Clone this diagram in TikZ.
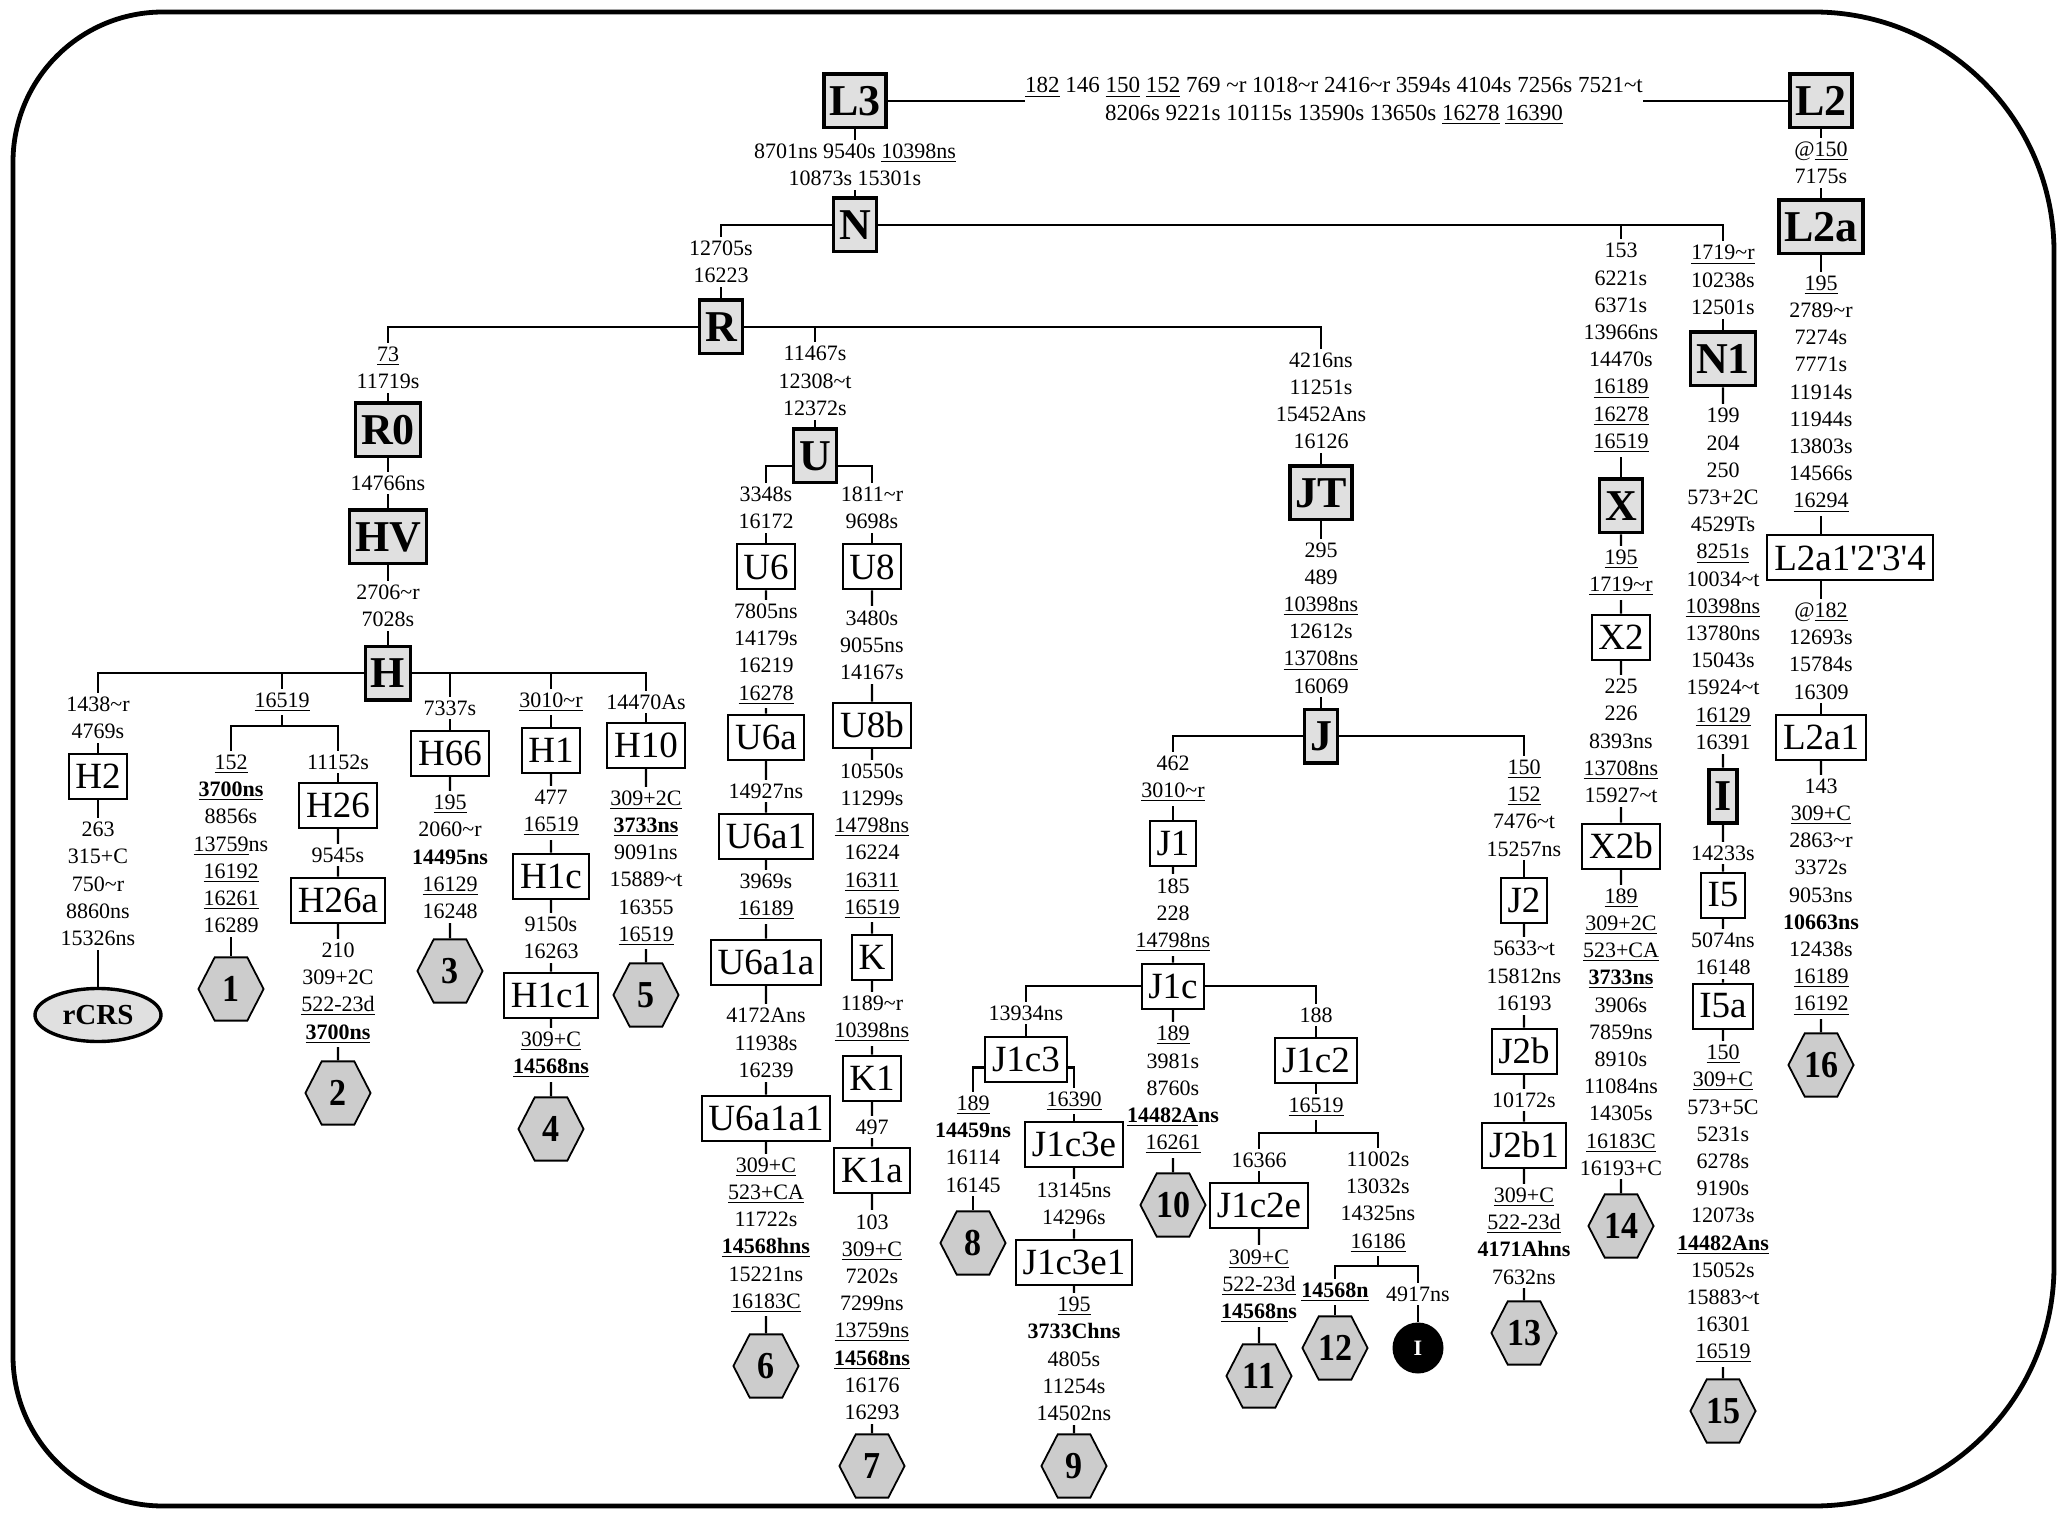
\documentclass[tikz,border=0pt]{standalone}
\usepackage{fontspec}
\setmainfont{Liberation Serif}
\usetikzlibrary{shapes.geometric}
\pgfdeclarelayer{background}
\pgfsetlayers{background,main}
\definecolor{hgfill}{gray}{0.88}
\definecolor{hexfill}{gray}{0.8}
\newcommand{\un}[1]{\underline{#1}}
\newcommand{\ubf}[1]{\textbf{\underline{#1}}}
\newcommand{\tld}{\textasciitilde}

\begin{document}
\begin{tikzpicture}[
    x=0.5pt, y=-0.5pt,
    hg/.style={draw, line width=1.7pt, fill=hgfill, inner xsep=2.7pt, inner ysep=0pt, minimum height=26.8pt, font=\fontsize{22}{22}\selectfont\bfseries},
    sub/.style={draw, line width=1pt, fill=white, inner xsep=3.4pt, inner ysep=0pt, minimum height=22.5pt, font=\fontsize{18.5}{18.5}\selectfont},
    hexa/.style={regular polygon, regular polygon sides=6, draw, line width=0.9pt, fill=hexfill, inner sep=0pt, minimum size=32.6pt, yscale=1.12, font=\fontsize{17}{17}\selectfont\bfseries},
    refseq/.style={ellipse, draw, line width=1.7pt, fill=hgfill, inner sep=0pt, minimum width=63pt, minimum height=26.5pt, font=\fontsize{14.5}{14.5}\selectfont\bfseries},
    dot/.style={circle, fill=black, text=white, inner sep=0pt, minimum size=25.5pt, font=\fontsize{11}{11}\selectfont\bfseries},
    mut/.style={fill=white, inner xsep=1pt, inner ysep=2pt, align=center, font=\fontsize{11}{13.6}\selectfont},
    link/.style={line width=1.1pt},
    outline/.style={line width=2.4pt}
]
\useasboundingbox (0,0) rectangle (2066,1518);

% Mutation lists
\node[mut, inner xsep=0pt, font=\fontsize{11.5}{13.6}\selectfont] (m-top) at (1334,101) {\un{182} 146 \un{150} \un{152} 769 \tld r 1018\tld r 2416\tld r 3594s 4104s 7256s 7521\tld t\\8206s 9221s 10115s 13590s 13650s \un{16278} \un{16390}};
\node[mut] (m-n) at (855,165) {8701ns 9540s \un{10398ns}\\10873s 15301s};
\node[mut] (m-r) at (721,262) {12705s\\16223};
\node[mut] (m-x) at (1621,348) {153\\6221s\\6371s\\13966ns\\14470s\\\un{16189}\\\un{16278}\\\un{16519}};
\node[mut] (m-n1) at (1723,280) {\un{1719\tld r}\\10238s\\12501s};
\node[mut] (m-l2a) at (1821,163) {@\un{150}\\7175s};
\node[mut] (m-r0) at (388,368) {\un{73}\\11719s};
\node[mut] (m-hv) at (388,483) {14766ns};
\node[mut] (m-h) at (388,606) {2706\tld r\\7028s};
\node[mut] (m-u) at (815,381) {11467s\\12308\tld t\\12372s};
\node[mut] (m-jt) at (1321,401) {4216ns\\11251s\\15452Ans\\16126};
\node[mut] (m-j) at (1321,618) {295\\489\\\un{10398ns}\\12612s\\\un{13708ns}\\16069};
\node[mut] (m-h2) at (98,718) {1438\tld r\\4769s};
\node[mut] (m-rcrs) at (98,884) {263\\315+C\\750\tld r\\8860ns\\15326ns};
\node[mut] (m-hb) at (282,702) {\un{16519}};
\node[mut] (m-hex1) at (231,844) {\un{152}\\\ubf{3700ns}\\8856s\\\un{13759}ns\\\un{16192}\\\un{16261}\\16289};
\node[mut] (m-h26) at (338,762) {11152s};
\node[mut] (m-h26a) at (338,855) {9545s};
\node[mut] (m-hex2) at (338,993) {210\\309+2C\\\un{522-23d}\\\ubf{3700ns}};
\node[mut] (m-h66) at (450,708) {7337s};
\node[mut] (m-hex3) at (450,857) {\un{195}\\2060\tld r\\\textbf{14495ns}\\\un{16129}\\16248};
\node[mut] (m-h1) at (551,702) {\un{3010\tld r}};
\node[mut] (m-h1c) at (551,813) {477\\\un{16519}};
\node[mut] (m-h1c1) at (551,938) {9150s\\16263};
\node[mut] (m-hex4) at (551,1055) {\un{309+C}\\\ubf{14568ns}};
\node[mut] (m-h10) at (646,702) {14470As};
\node[mut] (m-hex5) at (646,868) {\un{309+2C}\\\ubf{3733ns}\\9091ns\\15889\tld t\\16355\\\un{16519}};
\node[mut] (m-u6) at (766,508) {3348s\\16172};
\node[mut] (m-u6a) at (766,654) {7805ns\\14179s\\16219\\\un{16278}};
\node[mut] (m-u6a1) at (766,791) {14927ns};
\node[mut] (m-u6a1a) at (766,897) {3969s\\\un{16189}};
\node[mut] (m-u6a1a1) at (766,1043) {4172Ans\\11938s\\16239};
\node[mut] (m-hex6) at (766,1235) {\un{309+C}\\\un{523+CA}\\11722s\\\ubf{14568hns}\\15221ns\\\un{16183C}};
\node[mut] (m-u8) at (872,508) {1811\tld r\\9698s};
\node[mut] (m-u8b) at (872,645) {3480s\\9055ns\\14167s};
\node[mut] (m-k) at (872,841) {10550s\\11299s\\\un{14798ns}\\16224\\\un{16311}\\\un{16519}};
\node[mut] (m-k1) at (872,1019) {1189\tld r\\\un{10398ns}};
\node[mut] (m-k1a) at (872,1127) {497};
\node[mut] (m-hex7) at (872,1317) {103\\\un{309+C}\\7202s\\7299ns\\\un{13759ns}\\\ubf{14568ns}\\16176\\16293};
\node[mut] (m-j1) at (1173,779) {462\\\un{3010\tld r}};
\node[mut] (m-j1c) at (1173,915) {185\\228\\\un{14798ns}};
\node[mut] (m-hex10) at (1173,1090) {\un{189}\\3981s\\8760s\\\textbf{\un{14482A}ns}\\\un{16261}};
\node[mut] (m-j1c3) at (1026,1013) {13934ns};
\node[mut] (m-hex8) at (973,1144) {\un{189}\\\textbf{14459ns}\\16114\\16145};
\node[mut] (m-j1c3e) at (1074,1101) {\un{16390}};
\node[mut] (m-j1c3e1) at (1074,1204) {13145ns\\14296s};
\node[mut] (m-hex9) at (1074,1359) {\un{195}\\\textbf{3733Chns}\\4805s\\11254s\\14502ns};
\node[mut] (m-j1c2) at (1316,1015) {188};
\node[mut] (m-j1c2s) at (1316,1107) {\un{16519}};
\node[mut] (m-j1c2e) at (1259,1160) {16366};
\node[mut] (m-hex11) at (1259,1286) {\un{309+C}\\\un{522-23d}\\\textbf{\un{14568n}s}};
\node[mut] (m-j1c2k) at (1378,1202) {11002s\\13032s\\14325ns\\\un{16186}};
\node[mut] (m-hex12) at (1335,1292) {\ubf{14568n}};
\node[mut] (m-ci) at (1418,1294) {4917ns};
\node[mut] (m-j2) at (1524,808) {\un{150}\\\un{152}\\7476\tld t\\15257ns};
\node[mut] (m-j2b) at (1524,976) {5633\tld t\\15812ns\\16193};
\node[mut] (m-j2b1) at (1524,1100) {10172s};
\node[mut] (m-hex13) at (1524,1236) {\un{309+C}\\\un{522-23d}\\\textbf{4171Ahns}\\7632ns};
\node[mut] (m-x2) at (1621,573) {\un{195}\\\un{1719\tld r}};
\node[mut] (m-x2b) at (1621,741) {225\\226\\8393ns\\\un{13708ns}\\15927\tld t};
\node[mut] (m-hex14) at (1621,1032) {\un{189}\\\un{309+2C}\\\un{523+CA}\\\ubf{3733ns}\\3906s\\7859ns\\8910s\\11084ns\\14305s\\\un{16183C}\\16193+C};
\node[mut] (m-i) at (1723,579) {199\\204\\250\\573+2C\\4529Ts\\\un{8251s}\\10034\tld t\\\un{10398ns}\\13780ns\\15043s\\15924\tld t\\\un{16129}\\16391};
\node[mut] (m-i5) at (1723,853) {14233s};
\node[mut] (m-i5a) at (1723,954) {5074ns\\16148};
\node[mut] (m-hex15) at (1723,1204) {\un{150}\\\un{309+C}\\573+5C\\5231s\\6278s\\9190s\\12073s\\\ubf{14482Ans}\\15052s\\15883\tld t\\16301\\\un{16519}};
\node[mut] (m-l2ax) at (1821,394) {\un{195}\\2789\tld r\\7274s\\7771s\\11914s\\11944s\\13803s\\14566s\\\un{16294}};
\node[mut] (m-l2a1) at (1821,651) {@\un{182}\\12693s\\15784s\\16309};
\node[mut] (m-hex16) at (1821,897) {143\\\un{309+C}\\2863\tld r\\3372s\\9053ns\\\textbf{10663ns}\\12438s\\\un{16189}\\\un{16192}};

% Main haplogroups
\node[hg] (l3) at (855,101) {L3};
\node[hg] (l2) at (1821,101) {L2};
\node[hg] (n) at (855,225) {N};
\node[hg] (r) at (721,327) {R};
\node[hg] (l2a) at (1821,227) {L2a};
\node[hg] (n1) at (1723,359) {N1};
\node[hg] (x) at (1621,506) {X};
\node[hg] (r0) at (388,430) {R0};
\node[hg] (hv) at (388,537) {HV};
\node[hg] (h) at (388,673) {H};
\node[hg] (u) at (815,456) {U};
\node[hg] (jt) at (1321,493) {JT};
\node[hg] (j) at (1321,736) {J};
\node[hg] (i) at (1723,796) {I};

% Subgroups
\node[sub] (h2) at (98,776) {H2};
\node[sub] (h26) at (338,805) {H26};
\node[sub] (h26a) at (338,900) {H26a};
\node[sub] (h66) at (450,753) {H66};
\node[sub] (h1) at (551,750) {H1};
\node[sub] (h1c) at (551,876) {H1c};
\node[sub] (h1c1) at (551,995) {H1c1};
\node[sub] (h10) at (646,745) {H10};
\node[sub] (u6) at (766,567) {U6};
\node[sub] (u6a) at (766,737) {U6a};
\node[sub] (u6a1) at (766,836) {U6a1};
\node[sub] (u6a1a) at (766,962) {U6a1a};
\node[sub] (u6a1a1) at (766,1118) {U6a1a1};
\node[sub] (u8) at (872,567) {U8};
\node[sub] (u8b) at (872,725) {U8b};
\node[sub] (k) at (872,957) {K};
\node[sub] (k1) at (872,1078) {K1};
\node[sub] (k1a) at (872,1170) {K1a};
\node[sub] (j1) at (1173,843) {J1};
\node[sub] (j1c) at (1173,986) {J1c};
\node[sub] (j1c3) at (1026,1059) {J1c3};
\node[sub] (j1c3e) at (1074,1144) {J1c3e};
\node[sub] (j1c3e1) at (1074,1262) {J1c3e1};
\node[sub] (j1c2) at (1316,1060) {J1c2};
\node[sub] (j1c2e) at (1259,1205) {J1c2e};
\node[sub] (j2) at (1524,900) {J2};
\node[sub] (j2b) at (1524,1051) {J2b};
\node[sub] (j2b1) at (1524,1145) {J2b1};
\node[sub] (x2) at (1621,637) {X2};
\node[sub] (x2b) at (1621,846) {X2b};
\node[sub] (i5) at (1723,895) {I5};
\node[sub] (i5a) at (1723,1006) {I5a};
\node[sub] (l2ax) at (1850,558) {L2a1\textquotesingle 2\textquotesingle 3\textquotesingle 4};
\node[sub] (l2a1) at (1821,737) {L2a1};

% Samples
\node[refseq] (rcrs) at (98,1015) {rCRS};
\node[hexa] (hex1) at (231,989) {1};
\node[hexa] (hex2) at (338,1093) {2};
\node[hexa] (hex3) at (450,971) {3};
\node[hexa] (hex4) at (551,1129) {4};
\node[hexa] (hex5) at (646,995) {5};
\node[hexa] (hex6) at (766,1366) {6};
\node[hexa] (hex7) at (872,1466) {7};
\node[hexa] (hex8) at (973,1243) {8};
\node[hexa] (hex9) at (1074,1466) {9};
\node[hexa] (hex10) at (1173,1205) {10};
\node[hexa] (hex11) at (1259,1376) {11};
\node[hexa] (hex12) at (1335,1348) {12};
\node[hexa] (hex13) at (1524,1333) {13};
\node[hexa] (hex14) at (1621,1226) {14};
\node[hexa] (hex15) at (1723,1411) {15};
\node[hexa] (hex16) at (1821,1065) {16};
\node[dot] (ci) at (1418,1348) {I};

\coordinate (hb) at (282,726);
\coordinate (j1c2s) at (1316,1133);
\coordinate (j1c2k) at (1378,1266);

\begin{pgfonlayer}{background}
\draw[outline] (13,759) [rounded corners=75pt] -- (13,12) -- (1034,12)
  [rounded corners=120pt] -- (2054,12) -- (2054,1506) -- (1034,1506)
  [rounded corners=75pt] -- (13,1506) -- cycle;
% Tree
\draw[link] (l3) -- (l3 -| m-top.west);
\draw[link] (l2 -| m-top.east) -- (l2);
\draw[link] (l3) -- (n);
\draw[link] (n) -| (r);
\draw[link] (n) -| (x);
\draw[link] (n) -| (n1);
\draw[link] (l2) -- (l2a);
\draw[link] (l2a) -- (l2a |- l2ax.north);
\draw[link] (l2ax.south -| l2a1) -- (l2a1);
\draw[link] (l2a1) -- (hex16);
\draw[link] (r) -| (r0);
\draw[link] (r) -| (u);
\draw[link] (r) -| (jt);
\draw[link] (r0) -- (hv) -- (h);
\draw[link] (h) -| (h2);
\draw[link] (h2) -- (rcrs);
\draw[link] (h) -| (hb);
\draw[link] (hb) -| (hex1);
\draw[link] (hb) -| (h26);
\draw[link] (h26) -- (h26a) -- (hex2);
\draw[link] (h) -| (h66);
\draw[link] (h66) -- (hex3);
\draw[link] (h) -| (h1);
\draw[link] (h1) -- (h1c) -- (h1c1) -- (hex4);
\draw[link] (h) -| (h10);
\draw[link] (h10) -- (hex5);
\draw[link] ([yshift=-5pt]u.west) -| (u6);
\draw[link] ([yshift=-5pt]u.east) -| (u8);
\draw[link] (u6) -- (u6a) -- (u6a1) -- (u6a1a) -- (u6a1a1) -- (hex6);
\draw[link] (u8) -- (u8b) -- (k) -- (k1) -- (k1a) -- (hex7);
\draw[link] (jt) -- (j);
\draw[link] (j) -| (j1);
\draw[link] (j) -| (j2);
\draw[link] (j1) -- (j1c) -- (hex10);
\draw[link] (j1c) -| (j1c3);
\draw[link] (j1c) -| (j1c2);
\draw[link] ([yshift=7.5pt]j1c3.south west) -| (hex8);
\draw[link] ([yshift=7.5pt]j1c3.south east) -| (j1c3e);
\draw[link] (j1c3e) -- (j1c3e1) -- (hex9);
\draw[link] (j1c2) -- (j1c2s);
\draw[link] (j1c2s) -| (j1c2e);
\draw[link] (j1c2s) -| (j1c2k);
\draw[link] (j1c2e) -- (hex11);
\draw[link] (j1c2k) -| (hex12);
\draw[link] (j1c2k) -| (ci);
\draw[link] (j2) -- (j2b) -- (j2b1) -- (hex13);
\draw[link] (x) -- (x2) -- (x2b) -- (hex14);
\draw[link] (n1) -- (i) -- (i5) -- (i5a) -- (hex15);
\end{pgfonlayer}
\end{tikzpicture}
\end{document}
